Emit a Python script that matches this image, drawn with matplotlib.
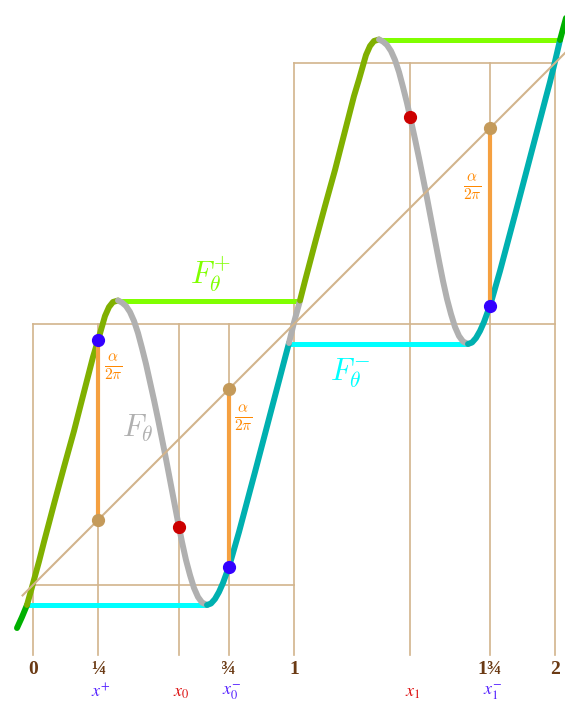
import matplotlib.pyplot as plt
import numpy as np

# lift F_theta, points (x, F(x))
curve_x = [-0.0613, -0.0421, -0.0230, 0.0000, 0.0230, 0.0421, 0.0613, 0.0805, 0.0996, 0.1188,
           0.1379, 0.1571, 0.1762, 0.1954, 0.2146, 0.2299, 0.2490, 0.2605, 0.2759, 0.2912,
           0.3065, 0.3257, 0.3410, 0.3563, 0.3716, 0.3870, 0.4023, 0.4176, 0.4330, 0.4483,
           0.4636, 0.4789, 0.4943, 0.5096, 0.5249, 0.5402, 0.5556, 0.5709, 0.5862, 0.6015,
           0.6169, 0.6322, 0.6475, 0.6667, 0.6820, 0.6973, 0.7126, 0.7280, 0.7433, 0.7586,
           0.7739, 0.7893, 0.8046, 0.8199, 0.8352, 0.8506, 0.8697, 0.8889, 0.9080, 0.9272,
           0.9464, 0.9655, 0.9808, 1.0000, 1.0230, 1.0421, 1.0613, 1.0805, 1.0996, 1.1188,
           1.1379, 1.1571, 1.1762, 1.1954, 1.2146, 1.2299, 1.2490, 1.2605, 1.2759, 1.2912,
           1.3065, 1.3257, 1.3410, 1.3563, 1.3716, 1.3870, 1.4023, 1.4176, 1.4330, 1.4483,
           1.4636, 1.4789, 1.4943, 1.5096, 1.5249, 1.5402, 1.5556, 1.5709, 1.5862, 1.6015,
           1.6169, 1.6322, 1.6475, 1.6667, 1.6820, 1.6973, 1.7126, 1.7280, 1.7433, 1.7586,
           1.7739, 1.7893, 1.8046, 1.8199, 1.8352, 1.8506, 1.8697, 1.8889, 1.9080, 1.9272,
           1.9464, 1.9655, 1.9808, 2.0000, 2.0192, 2.0421]
curve_y = [-0.1648, -0.1226, -0.0766, 0.0057, 0.0900, 0.1648, 0.2375, 0.3103, 0.3812, 0.4521,
           0.5211, 0.5900, 0.6648, 0.7395, 0.8142, 0.8736, 0.9368, 0.9770, 1.0307, 1.0651,
           1.0843, 1.0900, 1.0824, 1.0690, 1.0460, 1.0115, 0.9655, 0.9080, 0.8467, 0.7778,
           0.7088, 0.6360, 0.5594, 0.4828, 0.4023, 0.3218, 0.2414, 0.1648, 0.0958, 0.0383,
           -0.0115, -0.0460, -0.0670, -0.0766, -0.0709, -0.0536, -0.0268, 0.0077, 0.0498, 0.0958,
           0.1494, 0.2031, 0.2605, 0.3180, 0.3755, 0.4330, 0.5057, 0.5785, 0.6513, 0.7241,
           0.7969, 0.8697, 0.9272, 1.0057, 1.0900, 1.1648, 1.2375, 1.3103, 1.3812, 1.4521,
           1.5211, 1.5900, 1.6648, 1.7395, 1.8142, 1.8736, 1.9368, 1.9770, 2.0307, 2.0651,
           2.0843, 2.0900, 2.0824, 2.0690, 2.0460, 2.0115, 1.9655, 1.9080, 1.8467, 1.7778,
           1.7088, 1.6360, 1.5594, 1.4828, 1.4023, 1.3218, 1.2414, 1.1648, 1.0958, 1.0383,
           0.9885, 0.9540, 0.9330, 0.9234, 0.9291, 0.9464, 0.9732, 1.0077, 1.0498, 1.0958,
           1.1494, 1.2031, 1.2605, 1.3180, 1.3755, 1.4330, 1.5057, 1.5785, 1.6513, 1.7241,
           1.7969, 1.8697, 1.9272, 2.0057, 2.0881, 2.1724]

# where the colour of the curve changes
breaks = [-0.0230, 0.3257, 0.6667, 0.9808, 1.0230, 1.3257, 1.6667, 2.0192]
seg_colors = ['#00b000', '#80b000', '#b0b0b0', '#00b0b0', '#b0b0b0',
              '#80b000', '#b0b0b0', '#00b0b0', '#00b000']

# F+ and F- plateaus
fplus_lvl = [1.090, 2.088]
fplus_from = [0.3257, 1.3257]
fplus_to = [1.0230, 2.0192]
fminus_lvl = [-0.0766, 0.9234]
fminus_from = [-0.0230, 0.9808]
fminus_to = [0.6667, 1.6667]

# marked points
x0, x1 = 0.559, 1.444
red_x = [x0, x1]
red_y = [0.224, 1.795]
blue_x = [0.25, 0.75, 1.75]
blue_y = [0.938, 0.070, 1.070]
tan_y = [0.25, 0.75, 1.75]

tick_pos = [0, 0.25, 0.75, 1, 1.75, 2]
tick_txt = ['0', '¼', '¾', '1', '1¾', '2']
sub_pos = [0.25, x0, 0.75, x1, 1.75]
sub_txt = [r'$x^{+}$', r'$x_0$', r'$x_0^{-}$', r'$x_1$', r'$x_1^{-}$']
sub_col = ['#5522ff', '#dd1111', '#5522ff', '#dd1111', '#5522ff']

tan = '#d2b48c'
fig = plt.figure(figsize=(5.65, 7.06), dpi=100)
ax = fig.add_axes([0, 0, 1, 1])
ax.set_xlim(-0.1264, 2.0383)
ax.set_ylim(-0.4636, 2.2414)
ax.axis('off')

ybot = -0.268
# boxes and vertical guides
for v in [0, 0.25, x0, 0.75]:
    ax.plot([v, v], [ybot, 1], color=tan, lw=1.2, zorder=1)
for v in [1, x1, 1.75, 2]:
    ax.plot([v, v], [ybot, 2], color=tan, lw=1.2, zorder=1)
ax.plot([0, 1], [0, 0], color=tan, lw=1.2, zorder=1)
ax.plot([0, 2], [1, 1], color=tan, lw=1.2, zorder=1)
ax.plot([1, 2], [2, 2], color=tan, lw=1.2, zorder=1)
ax.plot([-0.04, 2.06], [-0.04, 2.06], color=tan, lw=1.5, zorder=4)

for lv, a, b in zip(fplus_lvl, fplus_from, fplus_to):
    ax.plot([a, b], [lv, lv], color='#80ff00', lw=3.6, zorder=2, solid_capstyle='butt')
for lv, a, b in zip(fminus_lvl, fminus_from, fminus_to):
    ax.plot([a, b], [lv, lv], color='#00ffff', lw=3.6, zorder=2, solid_capstyle='butt')

cx = np.array(curve_x)
cy = np.array(curve_y)
idx = [0] + [int(np.argmin(np.abs(cx - b))) for b in breaks] + [len(cx) - 1]
for k in range(len(seg_colors)):
    s, e = idx[k], idx[k + 1]
    ax.plot(cx[s:e + 1], cy[s:e + 1], color=seg_colors[k], lw=4.3, zorder=3,
            solid_capstyle='round', solid_joinstyle='round')

# alpha/2pi gaps
for bx, by, ty in zip(blue_x, blue_y, tan_y):
    ax.plot([bx, bx], [ty, by], color='#f5a040', lw=3, zorder=5)
ax.plot(blue_x, tan_y, 'o', color='#c49a5a', ms=8.5, zorder=6)
ax.plot(blue_x, blue_y, 'o', color='#3300ff', ms=8.5, zorder=6)
ax.plot(red_x, red_y, 'o', color='#cc0000', ms=8.5, zorder=6)

frac = r'$\frac{\alpha}{2\pi}$'
for fx, fy in [(0.307, 0.834), (0.805, 0.640), (1.682, 1.525)]:
    ax.text(fx, fy, frac, color='#ff8800', fontsize=16, ha='center', va='center',
            math_fontfamily='cm', zorder=7)

ax.text(0.68, 1.19, r'$F_\theta^{+}$', color='#80ff00', fontsize=22, ha='center',
        va='center', math_fontfamily='cm')
ax.text(1.215, 0.81, r'$F_\theta^{-}$', color='#00ffff', fontsize=22, ha='center',
        va='center', math_fontfamily='cm')
ax.text(0.40, 0.60, r'$F_\theta$', color='#b0b0b0', fontsize=22, ha='center',
        va='center', math_fontfamily='cm')

for p, t in zip(tick_pos, tick_txt):
    ax.text(p, -0.325, t, color='#6b3a14', fontsize=14, fontweight='bold',
            family='Liberation Serif', ha='center', va='center')
for p, t, c in zip(sub_pos, sub_txt, sub_col):
    ax.text(p + 0.01, -0.41, t, color=c, fontsize=13, ha='center', va='center',
            math_fontfamily='stix')

fig.savefig('out.png', dpi=100)
